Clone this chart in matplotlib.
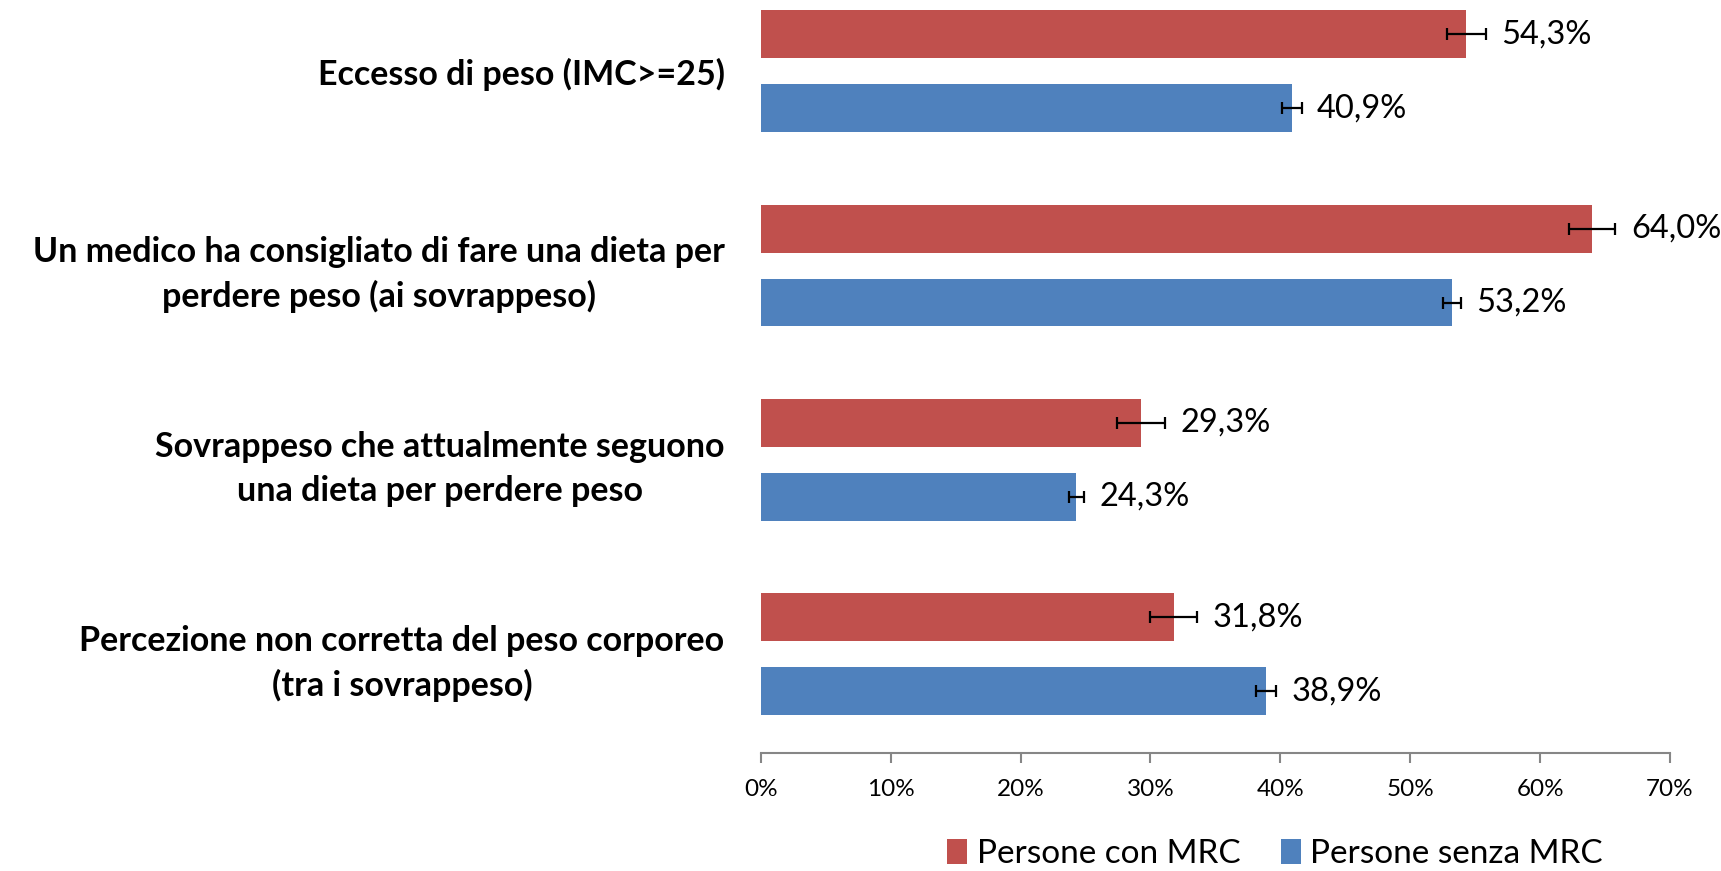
import matplotlib.pyplot as plt
import numpy as np

plt.rcParams['font.family'] = ['Lato', 'DejaVu Sans']

categories = [
    "Eccesso di peso (IMC>=25)",
    "Un medico ha consigliato di fare una dieta per\nperdere peso (ai sovrappeso)",
    "Sovrappeso che attualmente seguono\nuna dieta per perdere peso",
    "Percezione non corretta del peso corporeo\n(tra i sovrappeso)",
]
con_mrc = [54.3, 64.0, 29.3, 31.8]
senza_mrc = [40.9, 53.2, 24.3, 38.9]
# half-width of the confidence intervals
err_con = [1.5, 1.8, 1.85, 1.8]
err_senza = [0.75, 0.7, 0.6, 0.75]
series_names = ["Persone con MRC", "Persone senza MRC"]
xticks = [0, 10, 20, 30, 40, 50, 60, 70]

red = "#C0504D"
blue = "#4F81BD"

fig = plt.figure(figsize=(17.21, 8.71), dpi=100)
ax = fig.add_axes([0.442, 0.1355, 0.5284, 0.8645])

y = np.arange(len(categories))
h = 0.246
off = 0.19

ax.barh(y - off, con_mrc, height=h, color=red, label=series_names[0])
ax.barh(y + off, senza_mrc, height=h, color=blue, label=series_names[1])
ax.errorbar(con_mrc, y - off, xerr=err_con, fmt="none", ecolor="black",
            elinewidth=1.6, capsize=4, capthick=1.6)
ax.errorbar(senza_mrc, y + off, xerr=err_senza, fmt="none", ecolor="black",
            elinewidth=1.6, capsize=4, capthick=1.6)

for vals, errs, dy in [(con_mrc, err_con, -off), (senza_mrc, err_senza, off)]:
    for i, (v, e) in enumerate(zip(vals, errs)):
        ax.annotate("{:.1f}%".format(v).replace(".", ","), (v + e, i + dy),
                    xytext=(11, 0), textcoords="offset points",
                    ha="left", va="center", fontsize=23.5)

ax.set_xlim(0, 70)
ax.set_ylim(3.508, -0.367)
ax.set_xticks(xticks)
ax.set_xticklabels(["{}%".format(t) for t in xticks], fontsize=17.5)
ax.set_yticks(y)
ax.set_yticklabels(categories, fontsize=24.5, fontweight="bold",
                   multialignment="center", linespacing=1.45)
ax.tick_params(axis="y", length=0, pad=26)
ax.tick_params(axis="x", direction="out", length=7, color="#868686", width=1.5, pad=12)

for s in ["top", "right", "left"]:
    ax.spines[s].set_visible(False)
ax.spines["bottom"].set_color("#868686")
ax.spines["bottom"].set_linewidth(1.5)

ax.legend(loc="center", bbox_to_anchor=(1275 / 1721, 1 - 854 / 871),
          bbox_transform=fig.transFigure, ncol=2, frameon=False, fontsize=24,
          handlelength=0.6, handleheight=0.8, handletextpad=0.3, columnspacing=1.2)

fig.savefig("out.png", dpi=100)
